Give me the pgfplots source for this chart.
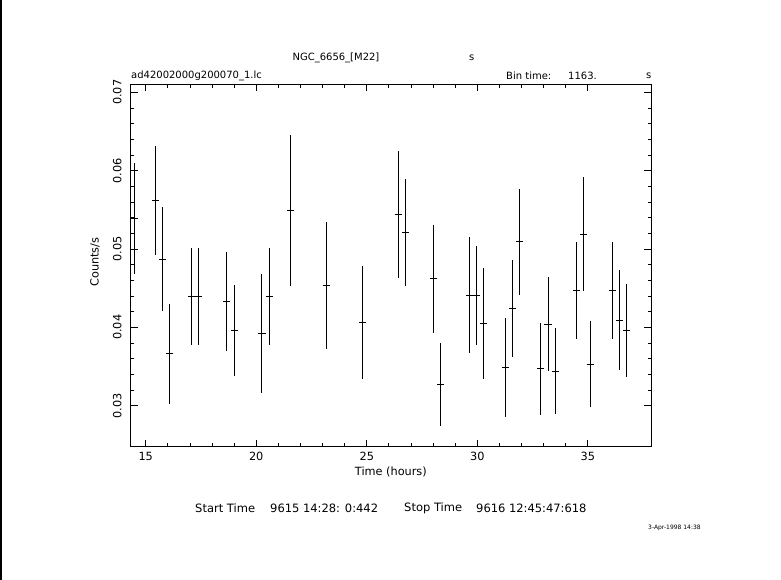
\documentclass[border=0pt]{standalone}
\usepackage{pgfplots}
\pgfplotsset{compat=1.18}
\usepackage{pgfplotstable}
\usepackage{fontspec}
\setmainfont{DejaVu Sans}
\pgfplotstableread{
t c ex ey
14.48 0.0539 0.16 0.0071
15.45 0.0562 0.16 0.0070
15.75 0.0487 0.16 0.0066
16.07 0.0366 0.16 0.0064
17.06 0.0439 0.16 0.0062
17.38 0.0439 0.16 0.0062
18.65 0.0433 0.16 0.0063
19.01 0.0396 0.16 0.0058
20.26 0.0392 0.16 0.0076
20.60 0.0439 0.16 0.0062
21.57 0.0549 0.16 0.0096
23.17 0.0454 0.16 0.0081
24.80 0.0406 0.16 0.0072
26.43 0.0544 0.16 0.0081
26.75 0.0521 0.16 0.0068
28.03 0.0462 0.16 0.0069
28.35 0.0327 0.16 0.0053
29.64 0.0441 0.16 0.0074
29.96 0.0441 0.16 0.0063
30.28 0.0405 0.16 0.0071
31.26 0.0349 0.16 0.0063
31.59 0.0424 0.16 0.0062
31.90 0.0509 0.16 0.0068
32.87 0.0347 0.16 0.0059
33.20 0.0404 0.16 0.0060
33.52 0.0344 0.16 0.0055
34.48 0.0447 0.16 0.0062
34.80 0.0519 0.16 0.0073
35.12 0.0353 0.16 0.0055
36.10 0.0447 0.16 0.0062
36.43 0.0409 0.16 0.0064
36.75 0.0396 0.16 0.0059
}\lcdata
\begin{document}
\begin{tikzpicture}
\useasboundingbox (0,0) rectangle (781bp,580bp);
\fill[black] (0,0) rectangle (1.6bp,580bp);
\begin{axis}[
  at={(130.7bp,133.3bp)}, anchor=south west,
  width=520.3bp, height=362.4bp, scale only axis,
  xmin=14.32, xmax=37.86, ymin=0.02477, ymax=0.07102,
  xtick={15,20,25,30,35}, minor x tick num=4,
  ytick={0.03,0.04,0.05,0.06,0.07}, minor y tick num=4,
  scaled y ticks=false,
  tick align=inside, tick pos=both,
  major tick length=7bp, minor tick length=3.5bp,
  tick style={black, line width=0.8bp},
  axis line style={line width=1bp},
  font=\fontsize{11.3bp}{13bp}\selectfont,
  /pgf/number format/assume math mode=true,
  yticklabel style={rotate=90, anchor=south, inner sep=0pt,
    /pgf/number format/.cd, fixed, fixed zerofill, precision=2},
  yticklabel shift=9bp,
  xticklabel style={anchor=north, inner sep=0pt},
  xticklabel shift=5bp,
  xlabel={Time (hours)},
  xlabel style={at={(axis description cs:0.5,0)}, anchor=center, yshift=-25.3bp, inner sep=0pt},
  ylabel={Counts/s},
  ylabel style={at={(axis description cs:0,0.5)}, anchor=center, yshift=35.7bp, xshift=3.5bp, inner sep=0pt},
  clip=false,
]
\addplot[black, draw=none, mark=none,
  error bars/.cd, x dir=both, x explicit, y dir=both, y explicit,
  error mark=none, error bar style={black, line width=1bp}]
  table[x=t, y=c, x error=ex, y error=ey] {\lcdata};
\end{axis}
\begin{scope}[every node/.style={inner sep=0pt, font=\fontsize{10bp}{12bp}\selectfont}]
\node[anchor=center] at (336bp,522bp) {NGC\_6656\_[M22]};
\node[anchor=west] at (469bp,522bp) {s};
\node[anchor=west] at (131bp,504bp) {ad42002000g200070\_1.lc};
\node[anchor=west] at (506bp,504bp) {Bin time:};
\node[anchor=west] at (568bp,504bp) {1163.};
\node[anchor=west] at (646bp,504bp) {s};
\end{scope}
\begin{scope}[every node/.style={inner sep=0pt, font=\fontsize{11.5bp}{13bp}\selectfont}]
\node[anchor=west] at (195bp,72bp) {Start Time};
\node[anchor=west] at (270bp,72bp) {9615 14:28: 0:442};
\node[anchor=west] at (404bp,72bp) {Stop Time};
\node[anchor=west] at (476bp,72bp) {9616 12:45:47:618};
\node[anchor=west, font=\fontsize{6bp}{7bp}\selectfont] at (648bp,52bp) {3-Apr-1998 14:38};
\end{scope}
\end{tikzpicture}
\end{document}
